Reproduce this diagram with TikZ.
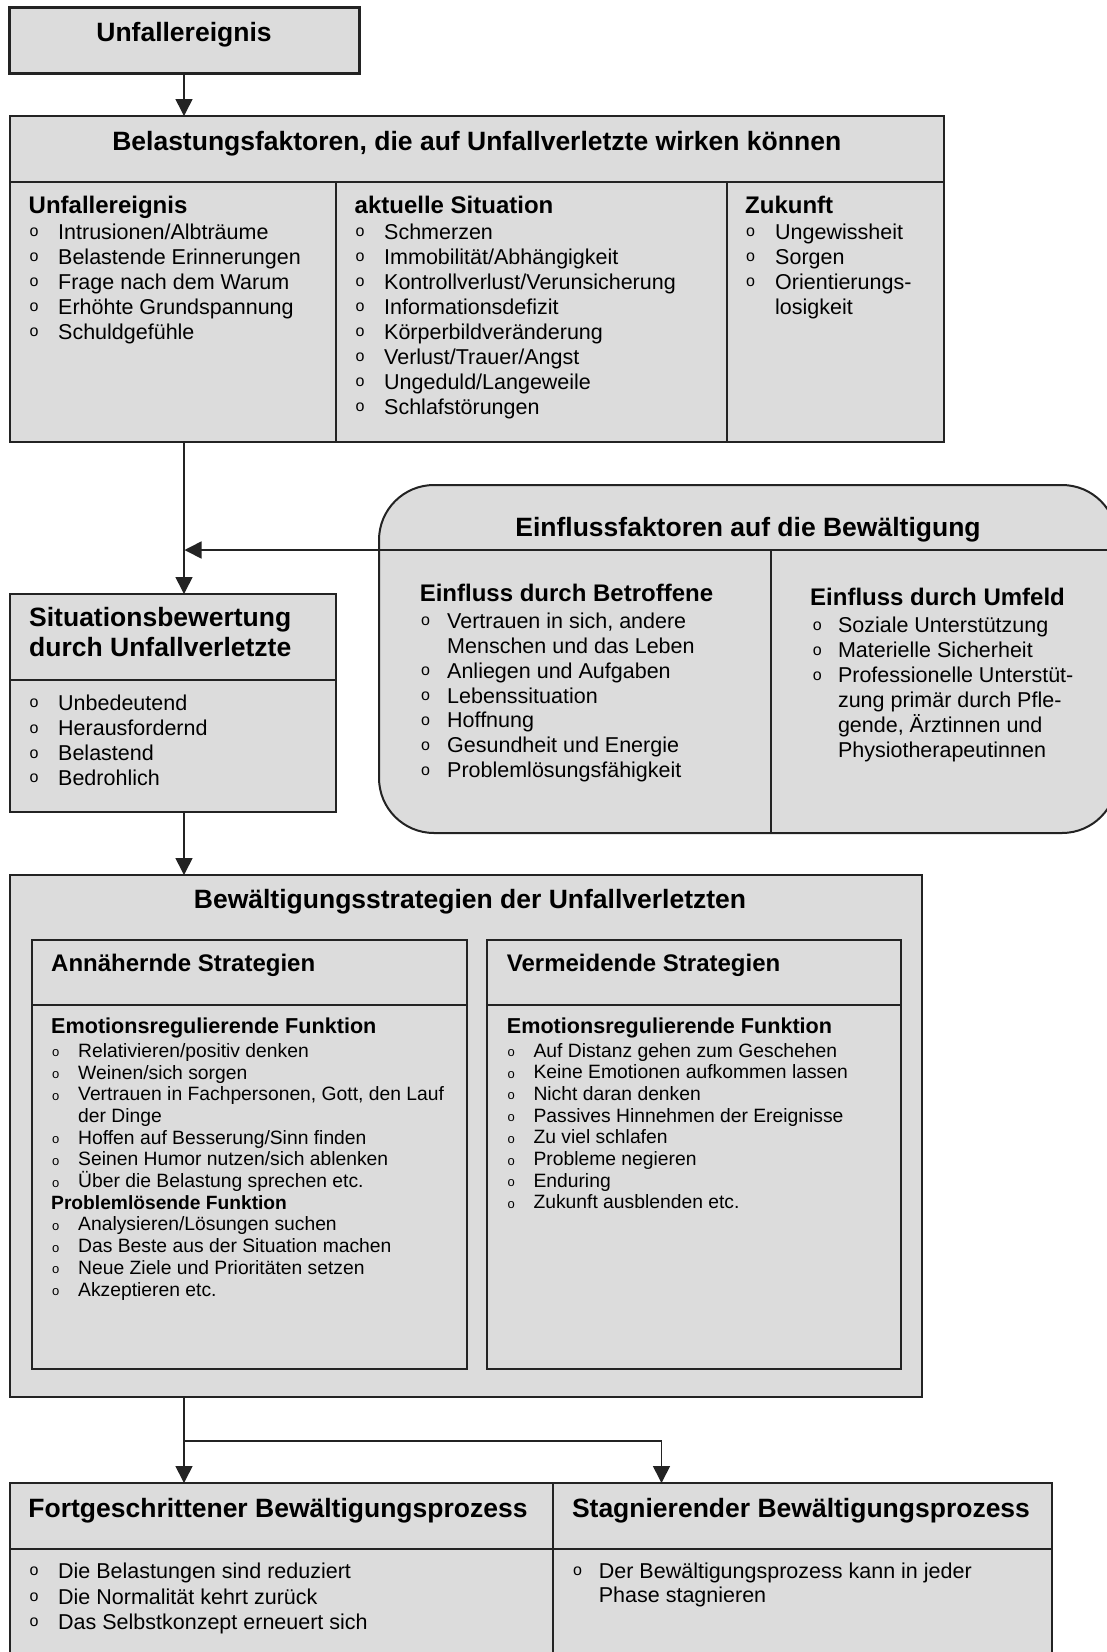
\documentclass[tikz,border=0pt]{standalone}
\usepackage{fontspec}
\setmainfont{Liberation Sans}
\usetikzlibrary{arrows.meta}
\definecolor{boxfill}{RGB}{220,220,220}
\definecolor{edgec}{RGB}{35,35,35}
\newcommand\litem[5]{\node[bu] (#1o) at (#2,#4-2.5) {o};\node[it] (#1) at (#3,#4) {#5};}
\newcommand\lcont[4]{\node[it] (#1) at (#2,#3) {#4};}
\newcommand\sitem[5]{\node[sbu] (#1o) at (#2,#4-0.5) {o};\node[sm] (#1) at (#3,#4) {#5};}
\newcommand\scont[4]{\node[sm] (#1) at (#2,#3) {#4};}
\begin{document}
\begin{tikzpicture}[x=1pt,y=-1pt,
 box/.style={draw=edgec,fill=boxfill,line width=2pt,inner sep=0pt,outer sep=0pt,anchor=north west},
 div/.style={draw=edgec,line width=2pt},
 conn/.style={draw=edgec,line width=1.6pt,-{Triangle[length=17pt,width=17pt]}},
 hdc/.style={font=\fontsize{26.5}{30}\selectfont\bfseries,inner sep=0pt,anchor=base},
 hdl/.style={hdc,anchor=base west},
 sh/.style={font=\fontsize{24}{28}\selectfont\bfseries,inner sep=0pt,anchor=base west},
 fh/.style={font=\fontsize{21.6}{25}\selectfont\bfseries,inner sep=0pt,anchor=base west},
 fhs/.style={font=\fontsize{19.2}{22}\selectfont\bfseries,inner sep=0pt,anchor=base west},
 it/.style={font=\fontsize{21.5}{25}\selectfont,inner sep=0pt,anchor=base west},
 bu/.style={font=\fontsize{16}{16}\selectfont,inner sep=0pt,anchor=base west},
 sm/.style={font=\fontsize{19.3}{22}\selectfont,inner sep=0pt,anchor=base west},
 sbu/.style={font=\fontsize{13}{13}\selectfont,inner sep=0pt,anchor=base west}]
\useasboundingbox (0,0) rectangle (1107,1652);
\fill[white] (0,0) rectangle (1107,1652);
\clip (0,0) rectangle (1107,1652);

% boxes
\node[box,line width=3pt,minimum width=350pt,minimum height=66pt] (topbox) at (9,7) {};
\node[box,minimum width=934.5pt,minimum height=326pt] (belast) at (9.5,116) {};
\node[box,minimum width=326.5pt,minimum height=217.5pt] (sit) at (9.5,594) {};
\node[box,rounded corners=55pt,minimum width=738pt,minimum height=348pt] (einfl) at (379,485) {};
\node[box,minimum width=911.5pt,minimum height=521.5pt] (bew) at (10,875) {};
\node[box,minimum width=435pt,minimum height=429pt] (ann) at (32,940) {};
\node[box,minimum width=414pt,minimum height=429pt] (verm) at (487,940) {};
\node[box,minimum width=543pt,minimum height=220pt] (fort) at (10,1483) {};
\node[box,minimum width=499pt,minimum height=220pt] (stag) at (553,1483) {};

% helper coordinates
\coordinate (bd) at (0,181.5);
\coordinate (bc1) at (336,0);
\coordinate (bc2) at (727,0);
\coordinate (sd) at (0,680);
\coordinate (ey) at (0,550);
\coordinate (ex) at (771,0);
\coordinate (ad) at (0,1005);
\coordinate (vd) at (0,1004.5);
\coordinate (fd) at (0,1549.3);
\coordinate (br) at (661.5,1440.7);

% dividers
\draw[div] (belast.west |- bd) -- (belast.east |- bd);
\draw[div] (bc1 |- bd) -- (bc1 |- belast.south);
\draw[div] (bc2 |- bd) -- (bc2 |- belast.south);
\draw[div] (sit.west |- sd) -- (sit.east |- sd);
\draw[div] (einfl.west |- ey) -- (einfl.east |- ey);
\draw[div] (ex |- ey) -- (ex |- einfl.south);
\draw[div] (ann.west |- ad) -- (ann.east |- ad);
\draw[div] (verm.west |- vd) -- (verm.east |- vd);
\draw[div] (fort.west |- fd) -- (stag.east |- fd);

% connectors
\draw[conn] (topbox.south) -- (topbox.south |- belast.north);
\draw[conn] (topbox.south |- belast.south) -- (topbox.south |- sit.north);
\draw[conn,shorten >=-1pt] (einfl.west |- ey) -- ([xshift=1.5pt]topbox.south |- ey);
\draw[conn] (topbox.south |- sit.south) -- (topbox.south |- bew.north);
\draw[conn] (topbox.south |- bew.south) -- (topbox.south |- fort.north);
\draw[conn] (topbox.south |- br) -- (br) -- (br |- stag.north);

% top
\node[hdc] (topT) at (184,41.7) {Unfallereignis};
% Belastungsfaktoren
\node[hdc] (belT) at (476.75,150) {Belastungsfaktoren, die auf Unfallverletzte wirken können};
\node[sh] (c1h) at (28.5,213) {Unfallereignis};
\node[sh] (c2h) at (354.5,213) {aktuelle Situation};
\node[sh] (c3h) at (745,213) {Zukunft};
\litem{a1}{29.5}{58}{239}{Intrusionen/Albträume}
\litem{a2}{29.5}{58}{264}{Belastende Erinnerungen}
\litem{a3}{29.5}{58}{289}{Frage nach dem Warum}
\litem{a4}{29.5}{58}{314}{Erhöhte Grundspannung}
\litem{a5}{29.5}{58}{339}{Schuldgefühle}
\litem{b1}{355.5}{384}{239}{Schmerzen}
\litem{b2}{355.5}{384}{264}{Immobilität/Abhängigkeit}
\litem{b3}{355.5}{384}{289}{Kontrollverlust/Verunsicherung}
\litem{b4}{355.5}{384}{314}{Informationsdefizit}
\litem{b5}{355.5}{384}{339}{Körperbildveränderung}
\litem{b6}{355.5}{384}{364}{Verlust/Trauer/Angst}
\litem{b7}{355.5}{384}{389}{Ungeduld/Langeweile}
\litem{b8}{355.5}{384}{414}{Schlafstörungen}
\litem{z1}{746}{775}{239}{Ungewissheit}
\litem{z2}{746}{775}{264}{Sorgen}
\litem{z3}{746}{775}{289}{Orientierungs-}
\lcont{z4}{775}{314}{losigkeit}

% Situationsbewertung
\node[hdl] (sitT1) at (29,626.7) {Situationsbewertung};
\node[hdl] (sitT2) at (29,656) {durch Unfallverletzte};
\litem{s1}{29.5}{58}{710}{Unbedeutend}
\litem{s2}{29.5}{58}{735.5}{Herausfordernd}
\litem{s3}{29.5}{58}{760.5}{Belastend}
\litem{s4}{29.5}{58}{785}{Bedrohlich}

% Einflussfaktoren
\node[hdc] (einT) at (748,536.7) {Einflussfaktoren auf die Bewältigung};
\node[sh] (e0) at (419.6,601.7) {Einfluss durch Betroffene};
\litem{e1}{421}{447}{628.3}{Vertrauen in sich, andere}
\lcont{e2}{447}{653.2}{Menschen und das Leben}
\litem{e3}{421}{447}{678.1}{Anliegen und Aufgaben}
\litem{e4}{421}{447}{703}{Lebenssituation}
\litem{e5}{421}{447}{727.9}{Hoffnung}
\litem{e6}{421}{447}{752.8}{Gesundheit und Energie}
\litem{e7}{421}{447}{777.7}{Problemlösungsfähigkeit}
\node[sh] (f0) at (810,605) {Einfluss durch Umfeld};
\litem{f1}{812.6}{837.8}{632.7}{Soziale Unterstützung}
\litem{f2}{812.6}{837.8}{657.6}{Materielle Sicherheit}
\litem{f3}{812.6}{837.8}{682.5}{Professionelle Unterstüt-}
\lcont{f4}{837.8}{707.4}{zung primär durch Pfle-}
\lcont{f5}{837.8}{732.3}{gende, Ärztinnen und}
\lcont{f6}{837.8}{757.2}{Physiotherapeutinnen}

% Bewaeltigungsstrategien
\node[hdc] (bewT) at (470,908.3) {Bewältigungsstrategien der Unfallverletzten};
\node[sh] (annT) at (51,971) {Annähernde Strategien};
\node[sh] (vermT) at (506.7,971) {Vermeidende Strategien};
\node[fh] (lE) at (51,1033.3) {Emotionsregulierende Funktion};
\sitem{l1}{52}{78}{1057.3}{Relativieren/positiv denken}
\sitem{l2}{52}{78}{1079}{Weinen/sich sorgen}
\sitem{l3}{52}{78}{1100.7}{Vertrauen in Fachpersonen, Gott, den Lauf}
\scont{l4}{78}{1122.4}{der Dinge}
\sitem{l5}{52}{78}{1144.1}{Hoffen auf Besserung/Sinn finden}
\sitem{l6}{52}{78}{1165.8}{Seinen Humor nutzen/sich ablenken}
\sitem{l7}{52}{78}{1187.5}{Über die Belastung sprechen etc.}
\node[fhs] (lP) at (51,1209.2) {Problemlösende Funktion};
\sitem{l8}{52}{78}{1230.9}{Analysieren/Lösungen suchen}
\sitem{l9}{52}{78}{1252.6}{Das Beste aus der Situation machen}
\sitem{l10}{52}{78}{1274.3}{Neue Ziele und Prioritäten setzen}
\sitem{l11}{52}{78}{1296}{Akzeptieren etc.}
\node[fh] (rE) at (506.7,1033.3) {Emotionsregulierende Funktion};
\sitem{r1}{507.5}{533.3}{1057}{Auf Distanz gehen zum Geschehen}
\sitem{r2}{507.5}{533.3}{1078.7}{Keine Emotionen aufkommen lassen}
\sitem{r3}{507.5}{533.3}{1100.4}{Nicht daran denken}
\sitem{r4}{507.5}{533.3}{1122.1}{Passives Hinnehmen der Ereignisse}
\sitem{r5}{507.5}{533.3}{1143.8}{Zu viel schlafen}
\sitem{r6}{507.5}{533.3}{1165.5}{Probleme negieren}
\sitem{r7}{507.5}{533.3}{1187.2}{Enduring}
\sitem{r8}{507.5}{533.3}{1208.9}{Zukunft ausblenden etc.}

% bottom
\node[hdl] (fortT) at (28.2,1517.3) {Fortgeschrittener Bewältigungsprozess};
\node[hdl] (stagT) at (571.8,1517.3) {Stagnierender Bewältigungsprozess};
\litem{p1}{29.5}{58}{1578.3}{Die Belastungen sind reduziert}
\litem{p2}{29.5}{58}{1604}{Die Normalität kehrt zurück}
\litem{p3}{29.5}{58}{1629.3}{Das Selbstkonzept erneuert sich}
\litem{q1}{573}{598.7}{1578.3}{Der Bewältigungsprozess kann in jeder}
\lcont{q2}{598.7}{1602.7}{Phase stagnieren}
\end{tikzpicture}
\end{document}
